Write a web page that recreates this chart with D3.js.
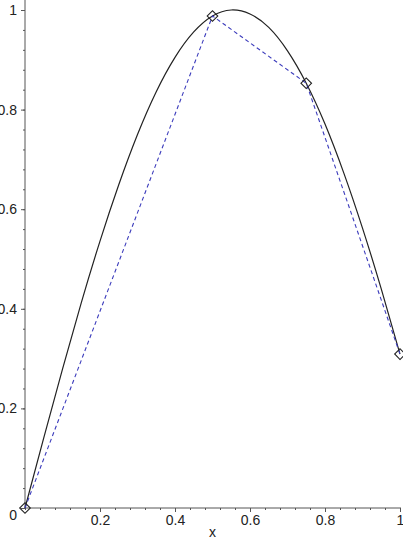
<!DOCTYPE html>
<html>
  <head>
    <style>
      body { margin: 0; background: #fff; }
      svg text { font: 14px "Liberation Sans", Arial, sans-serif; fill: #222; }
      .axis path, .axis line { stroke: #555; }
    </style>
  </head>
  <body>
    <svg class="chart" width="403" height="540"></svg>

    <script src="https://d3js.org/d3.v7.min.js"></script>
    <script type="text/javascript">
      // curve
      const curveX = [0, 0.05, 0.1, 0.15, 0.2, 0.25, 0.3, 0.35, 0.4, 0.45, 0.5,
                      0.55, 0.6, 0.65, 0.7, 0.75, 0.8, 0.85, 0.9, 0.95, 1];
      const curveY = [0, 0.141, 0.279, 0.412, 0.536, 0.649, 0.750, 0.836, 0.905, 0.956, 0.988,
                      1.0, 0.992, 0.965, 0.918, 0.853, 0.771, 0.673, 0.562, 0.440, 0.309];
      // dashed polyline with diamond markers
      const pointX = [0, 0.5, 0.75, 1];
      const pointY = [0, 0.988, 0.853, 0.309];
      const xTicks = [0.2, 0.4, 0.6, 0.8, 1];
      const yTicks = [0, 0.2, 0.4, 0.6, 0.8, 1];

      const svg = d3.select('.chart');
      const x = d3.scaleLinear().domain([0, 1]).range([25, 400]);
      const y = d3.scaleLinear().domain([0, 1]).range([508, 10]);

      const minor = d3.range(0, 1.0001, 0.04).map(function(d) { return +d.toFixed(2); });

      // minor ticks
      svg.append('g').attr('class', 'axis')
        .attr('transform', 'translate(0,' + y(0) + ')')
        .call(d3.axisBottom(x).tickValues(minor).tickSize(2).tickFormat(''))
        .call(function(g) { g.select('.domain').remove(); });
      svg.append('g').attr('class', 'axis')
        .attr('transform', 'translate(' + x(0) + ',0)')
        .call(d3.axisLeft(y).tickValues(minor).tickSize(2).tickFormat(''))
        .call(function(g) { g.select('.domain').remove(); });

      // x axis
      const gx = svg.append('g').attr('class', 'axis')
        .attr('transform', 'translate(0,' + y(0) + ')')
        .call(d3.axisBottom(x).tickValues(xTicks).tickSize(4).tickSizeOuter(0)
          .tickFormat(function(d) { return d3.format('~g')(d); }));
      gx.select('.domain').attr('d', 'M' + x(0) + ',0H' + (x(1) + 1));
      gx.selectAll('text').attr('y', 7);

      // y axis
      const gy = svg.append('g').attr('class', 'axis')
        .attr('transform', 'translate(' + x(0) + ',0)')
        .call(d3.axisLeft(y).tickValues(yTicks).tickSize(4).tickSizeOuter(0)
          .tickFormat(function(d) { return d3.format('~g')(d); }));
      gy.select('.domain').attr('d', 'M0,' + y(0) + 'V0');
      gy.selectAll('text').attr('x', -8)
        .attr('dy', function(d) { return d === 0 ? '0.85em' : '0.32em'; });

      svg.selectAll('.axis text').attr('fill', '#222');

      svg.append('text')
        .attr('x', x(0.5))
        .attr('y', 537)
        .attr('text-anchor', 'middle')
        .text('x');

      // smooth curve
      const line = d3.line()
        .x(function(d) { return x(d[0]); })
        .y(function(d) { return y(d[1]); })
        .curve(d3.curveNatural);

      svg.append('path')
        .datum(d3.zip(curveX, curveY))
        .attr('d', line)
        .attr('fill', 'none')
        .attr('stroke', '#222')
        .attr('stroke-width', 1.2);

      const pts = d3.zip(pointX, pointY);

      svg.append('path')
        .datum(pts)
        .attr('d', line.curve(d3.curveLinear))
        .attr('fill', 'none')
        .attr('stroke', '#3c3cbc')
        .attr('stroke-width', 1.1)
        .attr('stroke-dasharray', '4,3');

      svg.selectAll('.marker')
        .data(pts)
        .enter().append('path')
        .attr('class', 'marker')
        .attr('d', d3.symbol().type(d3.symbolSquare).size(56))
        .attr('transform', function(d) { return 'translate(' + x(d[0]) + ',' + y(d[1]) + ') rotate(45)'; })
        .attr('fill', 'none')
        .attr('stroke', '#222')
        .attr('stroke-width', 1.1);
    </script>
  </body>
</html>
